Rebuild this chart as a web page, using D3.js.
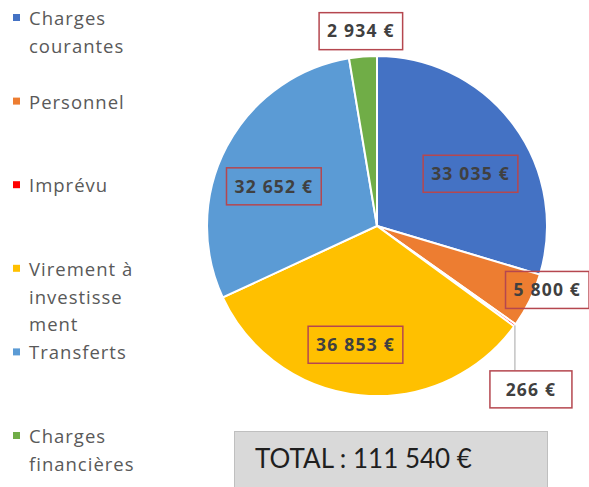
<!DOCTYPE html>
<html>
<head>
<meta charset="utf-8">
<script src="https://cdn.jsdelivr.net/npm/d3@7"></script>
<style>
  body { margin: 0; background: #fff; }
  svg { display: block; font-family: "Open Sans", Lato, sans-serif; }
</style>
</head>
<body>
<div id="chart"></div>
<script>
// budget split (euros)
const categories = ["Charges courantes", "Personnel", "Imprévu", "Virement à investissement", "Transferts", "Charges financières"];
const values = [33035, 5800, 266, 36853, 32652, 2934];
// legend text as wrapped in the original
const legendLines = [["Charges", "courantes"], ["Personnel"], ["Imprévu"], ["Virement à", "investisse", "ment"], ["Transferts"], ["Charges", "financières"]];
const colors = ["#4472C4", "#ED7D31", "#FF0000", "#FFC000", "#5B9BD5", "#70AD47"];

const w = 589;
const h = 487;
const cx = 377;
const cy = 226;
const r = 170;

// label placement: shift from mid angle (deg) and radius as fraction of r
const labelLayout = [
  { da: 7.5, k: 0.63 },
  { da: -5.4, k: 1.07 },
  { leader: true },
  { da: 4.6, k: 0.71 },
  { da: -6.8, k: 0.65 },
  { da: 0, k: 1.15, fill: "#fff" }
];

const fr = d3.formatLocale({ decimal: ",", thousands: "\u00a0", grouping: [3], currency: ["", " €"] });
const fmt = (v) => fr.format(",")(v) + " €";

const svg = d3.select("#chart").append("svg").attr("width", w).attr("height", h);

// pie
const pie = d3.pie().sort(null).value((d) => d);
const arcs = pie(values);
const arc = d3.arc().innerRadius(0).outerRadius(r);

const g = svg.append("g").attr("transform", `translate(${cx}, ${cy})`);
g.selectAll("path.slice")
  .data(arcs)
  .enter()
  .append("path")
  .attr("class", "slice")
  .attr("d", arc)
  .attr("fill", (d, i) => colors[i])
  .attr("stroke", "#fff")
  .attr("stroke-width", 2);

// data labels
const labelG = g.append("g");
arcs.forEach((d, i) => {
  const lay = labelLayout[i];
  const mid = (d.startAngle + d.endAngle) / 2;
  let px, py;
  const lg = labelG.append("g");
  if (lay.leader) {
    const [ex, ey] = d3.pointRadial(mid, r);
    px = ex + 16;
    py = ey + 45 + 19;
    lg.append("line")
      .attr("x1", ex).attr("y1", ey)
      .attr("x2", ex).attr("y2", ey + 45)
      .attr("stroke", "#A6A6A6")
      .attr("stroke-width", 1);
  } else {
    [px, py] = d3.pointRadial(mid + (lay.da * Math.PI) / 180, r * lay.k);
  }
  const txt = lg.append("text")
    .attr("x", px)
    .attr("y", py)
    .attr("dy", "0.36em")
    .attr("text-anchor", "middle")
    .attr("font-size", 17.5)
    .attr("font-weight", "bold")
    .attr("letter-spacing", 1.2)
    .attr("fill", "#404040")
    .text(fmt(values[i]));
  const tw = txt.node().getComputedTextLength();
  const bw = Math.max(tw + 16, lay.leader ? 82 : 0);
  lg.insert("rect", "text")
    .attr("x", px - bw / 2)
    .attr("y", py - 18.5)
    .attr("width", bw)
    .attr("height", 37)
    .attr("fill", lay.fill || (lay.leader ? "#fff" : "none"))
    .attr("stroke", "#B5474F")
    .attr("stroke-width", 1.5);
});

// legend
const legend = svg.append("g").attr("transform", "translate(13, 25)");
const item = legend.selectAll("g.item")
  .data(categories)
  .enter()
  .append("g")
  .attr("class", "item")
  .attr("transform", (d, i) => `translate(0, ${i * 83.6})`);
item.append("rect")
  .attr("x", 0)
  .attr("y", -11)
  .attr("width", 7)
  .attr("height", 7)
  .attr("fill", (d, i) => colors[i]);
item.append("text")
  .attr("x", 16)
  .attr("font-size", 18.5)
  .attr("letter-spacing", 1)
  .attr("fill", "#595959")
  .selectAll("tspan")
  .data((d, i) => legendLines[i])
  .enter()
  .append("tspan")
  .attr("x", 16)
  .attr("y", (d, j) => j * 27.8)
  .text((d) => d);

// total box
svg.append("rect")
  .attr("x", 234.5)
  .attr("y", 431.5)
  .attr("width", 313)
  .attr("height", 70)
  .attr("fill", "#D9D9D9")
  .attr("stroke", "#BFBFBF")
  .attr("stroke-width", 1);
svg.append("text")
  .attr("x", 255)
  .attr("y", 468)
  .attr("font-family", "Lato, sans-serif")
  .attr("font-size", 26)
  .attr("fill", "#1F1F1F")
  .text("TOTAL : " + fmt(d3.sum(values)));
</script>
</body>
</html>
